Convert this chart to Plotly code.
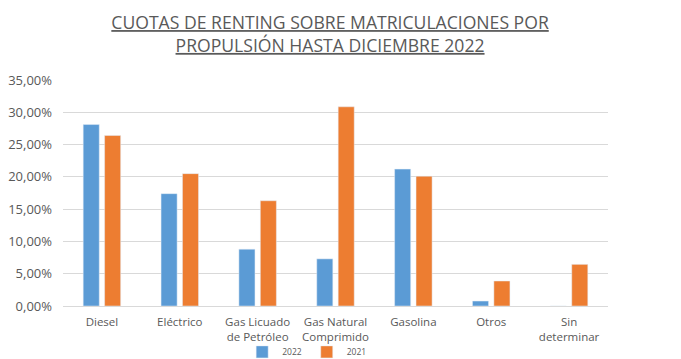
import plotly.graph_objects as go

categories = ["Diesel", "Eléctrico", "Gas Licuado<br>de Petróleo", "Gas Natural<br>Comprimido",
              "Gasolina", "Otros", "Sin<br>determinar"]
values_2022 = [0.281, 0.174, 0.088, 0.073, 0.212, 0.0077, 0.0]
values_2021 = [0.264, 0.205, 0.163, 0.3085, 0.201, 0.0387, 0.0645]

font_family = "Open Sans, Liberation Sans, sans-serif"
grey = "#595959"

fig = go.Figure()
fig.add_bar(x=categories, y=values_2022, name="2022", marker_color="#5B9BD5")
fig.add_bar(x=categories, y=values_2021, name="2021", marker_color="#ED7D31")

fig.update_layout(
    width=673, height=351,
    margin=dict(l=55, r=73, t=72, b=53, autoexpand=False),
    paper_bgcolor="white", plot_bgcolor="white",
    barmode="group", bargap=0.45, bargroupgap=0.25,
    title=dict(
        text="CUOTAS DE RENTING SOBRE MATRICULACIONES POR<br>PROPULSIÓN HASTA DICIEMBRE 2022",
        x=0.49, xref="paper", xanchor="center",
        y=0.94, yanchor="top",
        font=dict(family=font_family, size=17.6, color=grey, lineposition="under"),
    ),
    separators=",.",
    font=dict(family=font_family, size=11, color=grey),
    showlegend=True,
    legend=dict(orientation="h", x=0.448, xanchor="center", y=-0.203, yanchor="middle",
                font=dict(size=8.5, color=grey), bgcolor="rgba(0,0,0,0)",
                tracegroupgap=0),
)
fig.update_yaxes(range=[0, 0.35], dtick=0.05, tickformat=".2%", showgrid=True,
                 gridcolor="#D9D9D9", gridwidth=1, zeroline=False, showline=False,
                 ticks="", ticklabelstandoff=10, automargin=False,
                 tickfont=dict(size=13, color=grey))
fig.update_xaxes(showline=True, linecolor="#D9D9D9", linewidth=1, ticks="",
                 tickangle=0, automargin=False, ticklabelstandoff=5,
                 tickfont=dict(size=11.5, color=grey))

fig.write_html("out.html")
